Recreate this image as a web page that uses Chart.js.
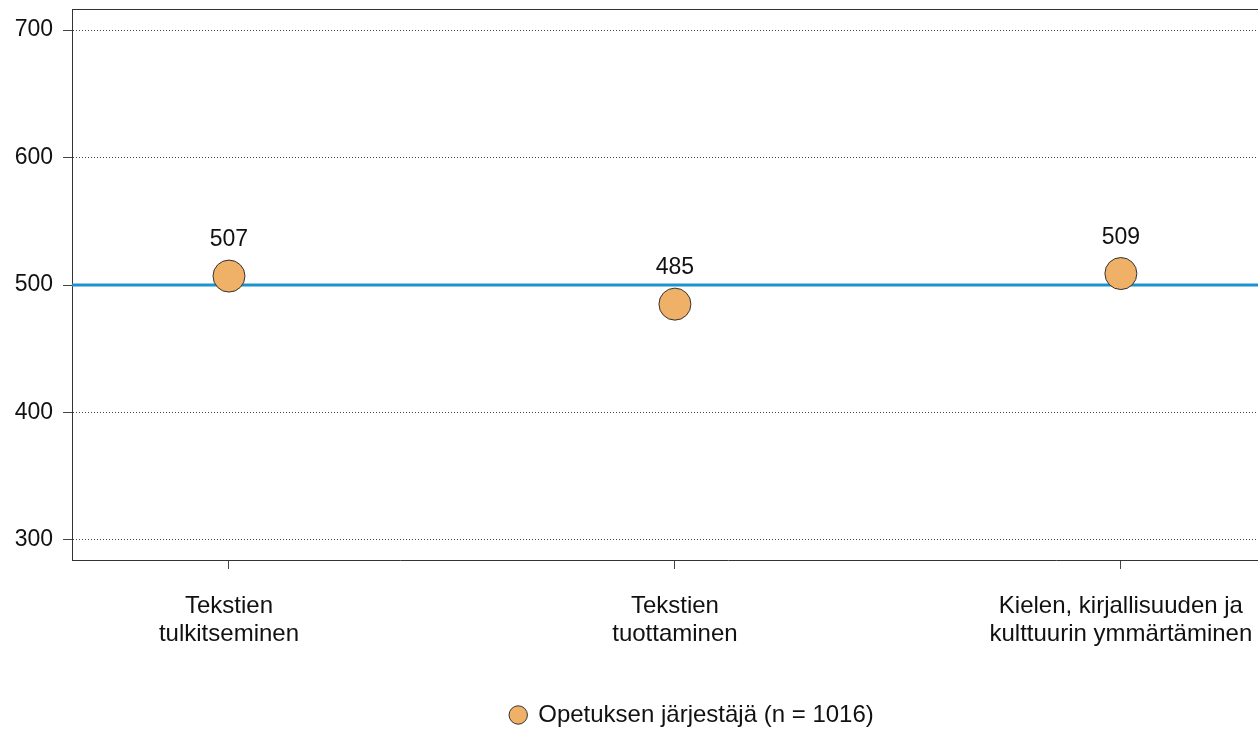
<!DOCTYPE html>
<html>
<head>
<meta charset="utf-8">
<script src="https://cdn.jsdelivr.net/npm/chart.js@4/dist/chart.umd.min.js"></script>
<style>
    html, body { margin: 0; padding: 0; background: #fff; overflow: hidden; }
    #wrap { width: 1258px; height: 731px; overflow: hidden; }
</style>
</head>
<body>
<!-- the original figure is cut off on the right, so the canvas is wider than the window -->
<div id="wrap"><canvas id="chart" width="1384" height="731"></canvas></div>
<script>
    const categories = [
        ['Tekstien', 'tulkitseminen'],
        ['Tekstien', 'tuottaminen'],
        ['Kielen, kirjallisuuden ja', 'kulttuurin ymmärtäminen']
    ];
    const scores = [507, 485, 509];
    const seriesLabel = 'Opetuksen järjestäjä (n = 1016)';
    const yTicks = [300, 400, 500, 600, 700];
    const referenceValue = 500;

    const fontFamily = '"Liberation Sans", Arial, sans-serif';

    const frame = {
        id: 'frame',
        afterDraw(chart) {
            const {ctx, chartArea} = chart;
            ctx.save();
            ctx.strokeStyle = '#333';
            ctx.lineWidth = 1;
            ctx.beginPath();
            ctx.moveTo(chartArea.left, chartArea.top + 0.5);
            ctx.lineTo(chartArea.right, chartArea.top + 0.5);
            ctx.stroke();
            ctx.restore();
        }
    };

    const referenceLine = {
        id: 'referenceLine',
        beforeDatasetsDraw(chart) {
            const {ctx, chartArea, scales} = chart;
            const y = scales.y.getPixelForValue(referenceValue);
            ctx.save();
            ctx.strokeStyle = '#1A93CF';
            ctx.lineWidth = 3;
            ctx.beginPath();
            ctx.moveTo(chartArea.left, y);
            ctx.lineTo(chartArea.right, y);
            ctx.stroke();
            ctx.restore();
        }
    };

    const valueLabels = {
        id: 'valueLabels',
        afterDatasetsDraw(chart) {
            const {ctx} = chart;
            const meta = chart.getDatasetMeta(0);
            ctx.save();
            ctx.fillStyle = '#111';
            ctx.font = '23px ' + fontFamily;
            ctx.textAlign = 'center';
            ctx.textBaseline = 'middle';
            meta.data.forEach((pt, i) => {
                ctx.fillText(String(scores[i]), pt.x, pt.y - 36);
            });
            ctx.restore();
        }
    };

    new Chart(document.getElementById('chart').getContext('2d'), {
        type: 'scatter',
        data: {
            datasets: [{
                label: seriesLabel,
                data: scores.map((v, i) => ({x: i, y: v})),
                backgroundColor: '#EFB068',
                borderColor: '#333',
                borderWidth: 1,
                pointRadius: 16,
                pointHoverRadius: 16
            }]
        },
        options: {
            responsive: false,
            animation: false,
            layout: {autoPadding: false, padding: {top: 9, left: 0, right: 0, bottom: -6}},
            plugins: {
                tooltip: {enabled: false},
                legend: {
                    position: 'bottom',
                    labels: {
                        usePointStyle: true,
                        pointStyle: 'circle',
                        boxHeight: 13,
                        boxWidth: 16,
                        padding: 0,
                        color: '#111',
                        font: {family: fontFamily, size: 24}
                    }
                }
            },
            scales: {
                x: {
                    type: 'linear',
                    min: -0.352,
                    max: 2.59,
                    afterBuildTicks: scale => {
                        scale.ticks = categories.map((c, i) => ({value: i}));
                    },
                    afterFit: scale => {
                        scale.height = 143;
                        scale.paddingLeft = 0;
                        scale.paddingRight = 0;
                    },
                    ticks: {
                        autoSkip: false,
                        maxRotation: 0,
                        padding: 23,
                        color: '#111',
                        font: {family: fontFamily, size: 24, lineHeight: 1.17},
                        callback: value => categories[value]
                    },
                    grid: {
                        drawOnChartArea: false,
                        drawTicks: true,
                        tickLength: 9,
                        tickColor: '#444',
                        tickWidth: 1
                    },
                    border: {display: true, color: '#333', width: 1}
                },
                y: {
                    min: 284.3,
                    max: 716.5,
                    afterBuildTicks: scale => {
                        scale.ticks = yTicks.map(v => ({value: v}));
                    },
                    afterFit: scale => {
                        scale.width = 72;
                        scale.paddingTop = 0;
                        scale.paddingBottom = 0;
                    },
                    ticks: {
                        padding: 10,
                        color: '#111',
                        font: {family: fontFamily, size: 23}
                    },
                    grid: {
                        color: '#444',
                        lineWidth: 1,
                        drawTicks: true,
                        tickLength: 9,
                        tickColor: '#444',
                        tickBorderDash: []
                    },
                    border: {display: true, color: '#333', width: 1, dash: [1, 2]}
                }
            }
        },
        plugins: [referenceLine, valueLabels, frame]
    });
</script>
</body>
</html>
